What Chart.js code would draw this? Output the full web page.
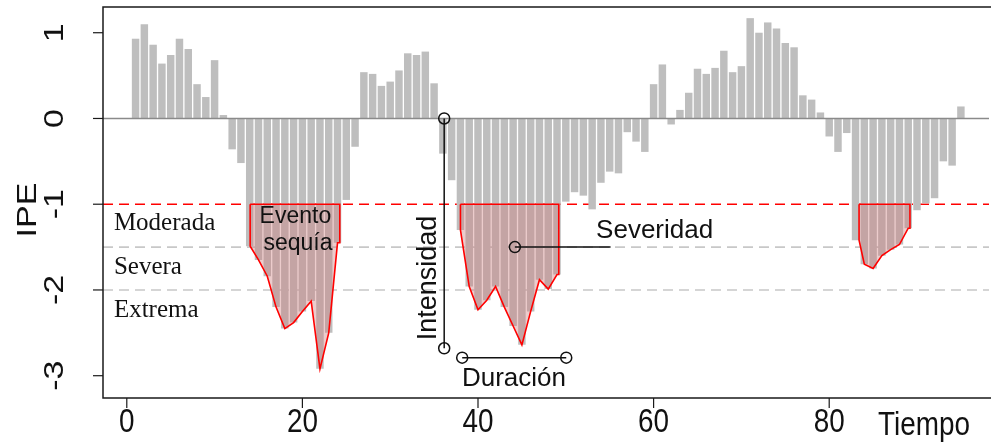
<!DOCTYPE html>
<html>
<head>
<meta charset="utf-8">
<script src="https://cdn.jsdelivr.net/npm/chart.js@4.4.1/dist/chart.umd.min.js"></script>
<style>
  html, body { margin: 0; padding: 0; background: #fff; }
</style>
</head>
<body>
<canvas id="ipeChart" width="996" height="448"></canvas>
<script>
// Time steps and IPE values
const tiempo = [
   1,  2,  3,  4,  5,  6,  7,  8,  9, 10, 11, 12, 13, 14, 15, 16, 17, 18, 19, 20,
  21, 22, 23, 24, 25, 26, 27, 28, 29, 30, 31, 32, 33, 34, 35, 36, 37, 38, 39, 40,
  41, 42, 43, 44, 45, 46, 47, 48, 49, 50, 51, 52, 53, 54, 55, 56, 57, 58, 59, 60,
  61, 62, 63, 64, 65, 66, 67, 68, 69, 70, 71, 72, 73, 74, 75, 76, 77, 78, 79, 80,
  81, 82, 83, 84, 85, 86, 87, 88, 89, 90, 91, 92, 93, 94, 95
];
const ipe = [
   0.93,  1.10,  0.86,  0.64,  0.74,  0.93,  0.81,  0.40,  0.25,  0.68,
   0.04, -0.36, -0.52, -1.49, -1.65, -1.84, -2.20, -2.45, -2.38, -2.25,
  -2.13, -2.92, -2.50, -1.45, -0.95, -0.33,  0.54,  0.52,  0.38,  0.43,
   0.56,  0.76,  0.74,  0.78,  0.41, -0.41, -0.72, -1.30, -1.96, -2.23,
  -2.12, -1.96, -2.20, -2.42, -2.64, -2.25, -1.88, -1.99, -1.82, -0.97,
  -0.86, -0.90, -1.06, -0.75, -0.62, -0.64, -0.16, -0.27, -0.39,  0.40,
   0.63, -0.07,  0.10,  0.30,  0.58,  0.52,  0.59,  0.79,  0.54,  0.61,
   1.17,  1.00,  1.12,  1.05,  0.88,  0.83,  0.27,  0.22,  0.07, -0.21,
  -0.39, -0.17, -1.42, -1.70, -1.75, -1.60, -1.53, -1.47, -1.28, -1.07,
  -0.99, -0.93, -0.50, -0.55,  0.14
];

// Drought events: where each shaded area starts and ends on the time axis
const eventos = [[14.05, 24.26], [38.0, 49.2], [83.4, 89.2]];

// Category thresholds
const umbralSequia = -1;
const umbralesCategoria = [-1.5, -2];
const categorias = ['Moderada', 'Severa', 'Extrema'];

// Axis ticks
const xTicks = [0, 20, 40, 60, 80];
const yTicks = [1, 0, -1, -2, -3];

// Annotation marks (data coordinates)
const intensidadX = 36.15;
const intensidadY = [0, -2.68];
const duracionX = [38.2, 50.05];
const duracionY = -2.79;
const severidadPunto = [44.2, -1.5];
const severidadFinX = 55.1;

const X_MIN = -2.71, X_MAX = 98.2, Y_MIN = -3.26, Y_MAX = 1.30;

function hline(y) {
    return [{ x: X_MIN, y: y }, { x: X_MAX, y: y }];
}

function valorEn(t) {
    return ipe[tiempo.indexOf(t)];
}

// closed outline: threshold -> bar tops -> threshold -> back to start
function eventPolygon(start, end) {
    const first = Math.round(start), last = Math.round(end);
    const pts = [{ x: start, y: umbralSequia }, { x: start, y: valorEn(first) }];
    for (let t = Math.ceil(start); t <= Math.floor(end); t++) {
        pts.push({ x: t, y: valorEn(t) });
    }
    pts.push({ x: end, y: valorEn(last) });
    pts.push({ x: end, y: umbralSequia });
    pts.push({ x: start, y: umbralSequia });
    return pts;
}

const lineBase = { type: 'line', pointRadius: 0, tension: 0, fill: false };

// squeezed text like the narrow axis font of the original
function narrowText(ctx, txt, x, y, rot, sx) {
    ctx.save();
    ctx.translate(x, y);
    ctx.scale(sx, 1);
    ctx.rotate(rot);
    ctx.fillText(txt, 0, 0);
    ctx.restore();
}

const decor = {
    id: 'decor',
    afterDatasetsDraw(chart) {
        const ctx = chart.ctx;
        const xs = chart.scales.x, ys = chart.scales.y;
        const X = v => xs.getPixelForValue(v);
        const Y = v => ys.getPixelForValue(v);
        const ca = chart.chartArea;
        ctx.save();

        // box
        ctx.strokeStyle = '#1a1a1a';
        ctx.lineWidth = 1.5;
        ctx.beginPath();
        ctx.moveTo(ca.right + 2, ca.top);
        ctx.lineTo(ca.left, ca.top);
        ctx.lineTo(ca.left, ca.bottom);
        ctx.lineTo(ca.right + 2, ca.bottom);
        ctx.stroke();

        // ticks
        ctx.lineWidth = 1.2;
        yTicks.forEach(v => {
            ctx.beginPath();
            ctx.moveTo(ca.left - 10, Y(v));
            ctx.lineTo(ca.left, Y(v));
            ctx.stroke();
        });
        xTicks.forEach(v => {
            ctx.beginPath();
            ctx.moveTo(X(v), ca.bottom);
            ctx.lineTo(X(v), ca.bottom + 10);
            ctx.stroke();
        });

        // axis labels
        ctx.fillStyle = '#111';
        ctx.textBaseline = 'middle';
        ctx.textAlign = 'center';
        ctx.font = '34px "Liberation Sans", Arial, sans-serif';
        xTicks.forEach(v => narrowText(ctx, String(v), X(v), 423, 0, 0.82));
        yTicks.forEach(v => narrowText(ctx, String(v), 55, Y(v), -Math.PI / 2, 0.82));
        narrowText(ctx, 'IPE', 28, 210, -Math.PI / 2, 0.82);
        ctx.textAlign = 'left';
        narrowText(ctx, 'Tiempo', 878, 426, 0, 0.82);

        // category names
        ctx.font = '25px "Liberation Serif", "Times New Roman", serif';
        ctx.fillStyle = '#111';
        const catY = [-1.23, -1.74, -2.24];
        categorias.forEach((c, i) => ctx.fillText(c, X(-1.47), Y(catY[i])));

        // annotation texts
        ctx.font = '23px "Liberation Sans", Arial, sans-serif';
        ctx.textAlign = 'center';
        ctx.fillText('Evento', X(19.2), Y(-1.15));
        ctx.fillText('sequía', X(19.5), Y(-1.46));

        ctx.font = '26px "Liberation Sans", Arial, sans-serif';
        ctx.textAlign = 'left';
        ctx.fillText('Severidad', X(53.45), Y(-1.31));
        ctx.textAlign = 'center';
        ctx.fillText('Duración', X(44.1), Y(-3.04));

        ctx.font = '27px "Liberation Sans", Arial, sans-serif';
        ctx.save();
        ctx.translate(X(34.35), Y(-1.86));
        ctx.rotate(-Math.PI / 2);
        ctx.fillText('Intensidad', 0, 0);
        ctx.restore();

        ctx.restore();
    }
};

const datasets = [];

// threshold lines (behind bars)
datasets.push(Object.assign({}, lineBase, {
    data: hline(umbralSequia),
    borderColor: '#ff0000', borderWidth: 1.6, borderDash: [10, 6], order: 6
}));
umbralesCategoria.forEach(u => {
    datasets.push(Object.assign({}, lineBase, {
        data: hline(u),
        borderColor: '#c8c8c8', borderWidth: 1.6, borderDash: [10, 6], order: 6
    }));
});

// IPE bars
datasets.push({
    type: 'bar',
    data: tiempo.map((t, i) => ({ x: t, y: ipe[i] })),
    backgroundColor: '#bebebe',
    borderWidth: 0,
    barPercentage: 0.85,
    categoryPercentage: 1,
    order: 5
});

// drought event areas
eventos.forEach(([a, b]) => {
    datasets.push(Object.assign({}, lineBase, {
        data: eventPolygon(a, b),
        borderColor: '#ff0000', borderWidth: 1.6,
        backgroundColor: 'rgba(205,120,120,0.38)',
        fill: 'shape', order: 4
    }));
});

// zero line
datasets.push(Object.assign({}, lineBase, {
    data: hline(0), borderColor: '#8a8a8a', borderWidth: 1.5, order: 3
}));

// intensity, duration and severity markers
const marker = {
    borderColor: '#111', borderWidth: 1.5,
    pointStyle: 'circle', pointBorderColor: '#111', pointBorderWidth: 1.5,
    pointBackgroundColor: 'rgba(0,0,0,0)', order: 1
};
datasets.push(Object.assign({}, lineBase, marker, {
    data: intensidadY.map(y => ({ x: intensidadX, y: y })), pointRadius: 5.5
}));
datasets.push(Object.assign({}, lineBase, marker, {
    data: duracionX.map(x => ({ x: x, y: duracionY })), pointRadius: 5.5
}));
datasets.push(Object.assign({}, lineBase, marker, {
    data: [{ x: severidadPunto[0], y: severidadPunto[1] }, { x: severidadFinX, y: severidadPunto[1] }],
    pointRadius: [5.5, 0]
}));

new Chart(document.getElementById('ipeChart'), {
    type: 'bar',
    data: { datasets: datasets },
    options: {
        responsive: false,
        animation: false,
        layout: { padding: { left: 103, top: 7, right: 0, bottom: 50 } },
        plugins: { legend: { display: false }, tooltip: { enabled: false } },
        scales: {
            x: { type: 'linear', min: X_MIN, max: X_MAX, offset: false, display: false },
            y: { type: 'linear', min: Y_MIN, max: Y_MAX, display: false }
        }
    },
    plugins: [decor]
});
</script>
</body>
</html>
